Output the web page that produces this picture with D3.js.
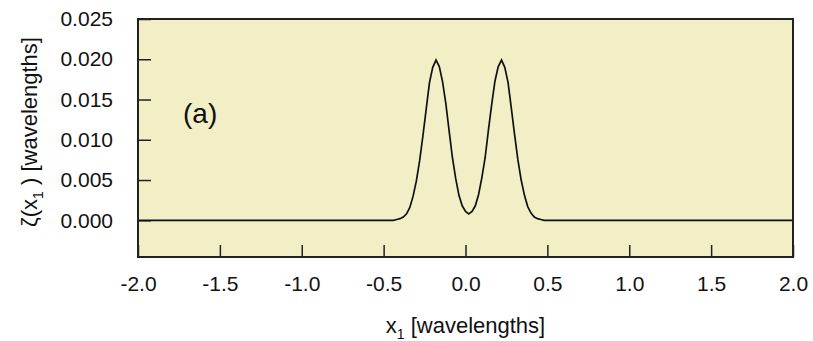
<!DOCTYPE html>
<html>
<head>
<meta charset="utf-8">
<script src="https://cdn.jsdelivr.net/npm/d3@7"></script>
<style>
  body { margin: 0; background: #fff; }
  svg text { font-family: "Liberation Sans", Arial, Helvetica, sans-serif; fill: #111; }
</style>
</head>
<body>
<div id="content"></div>
<script>
// surface profile (x1 in wavelengths, zeta in wavelengths)
var xs = [-2.0, -0.50, -0.48, -0.46, -0.44, -0.42, -0.40, -0.38, -0.36, -0.34, -0.32, -0.30, -0.28, -0.26,
          -0.24, -0.22, -0.20, -0.18, -0.16, -0.14, -0.12, -0.10, -0.08, -0.06, -0.04, -0.02, 0.00,
          0.02, 0.04, 0.06, 0.08, 0.10, 0.12, 0.14, 0.16, 0.18, 0.20, 0.22, 0.24, 0.26, 0.28, 0.30,
          0.32, 0.34, 0.36, 0.38, 0.40, 0.42, 0.44, 0.46, 0.48, 0.50, 0.52, 0.54, 2.0];
var zeta = [0, 0, 0, 0, 0, 0.0001, 0.0002, 0.0004, 0.0008, 0.0016, 0.0030, 0.0049, 0.0074, 0.0105,
            0.0138, 0.0171, 0.0190, 0.0199, 0.0191, 0.0172, 0.0145, 0.0111, 0.0078, 0.0052, 0.0031, 0.0018, 0.0011,
            0.0008, 0.0011, 0.0018, 0.0032, 0.0053, 0.0078, 0.0112, 0.0144, 0.0173, 0.0191, 0.0199, 0.0190, 0.0171, 0.0139, 0.0106,
            0.0075, 0.0050, 0.0031, 0.0017, 0.0009, 0.0004, 0.0002, 0.0001, 0, 0, 0, 0, 0];
var xTicks = [-2.0, -1.5, -1.0, -0.5, 0.0, 0.5, 1.0, 1.5, 2.0];
var yTicks = [0.000, 0.005, 0.010, 0.015, 0.020, 0.025];
var panelLabel = "(a)";

var data = xs.map(function(d, i) { return {x: d, y: zeta[i]}; });

// set the dimensions and margins of the graph
var margin = {top: 19, right: 20, bottom: 84, left: 138},
    width = 813 - margin.left - margin.right,
    height = 341 - margin.top - margin.bottom;

var svg = d3.select("#content")
  .append("svg")
    .attr("width", 813)
    .attr("height", 341)
  .append("g")
    .attr("transform", "translate(" + margin.left + "," + margin.top + ")");

var x = d3.scaleLinear().domain([-2, 2]).range([0, width]);
var y = d3.scaleLinear().domain([-0.00456, 0.025]).range([height, 0]);

// hyphen instead of unicode minus, like the original
var fmt1 = function(d) { return d3.format(".1f")(d).replace("\u2212", "-"); };

// plot background
svg.append("rect")
    .attr("x", 0).attr("y", 0)
    .attr("width", width).attr("height", height)
    .style("fill", "#f2eec6");

// y ticks (inside) + labels
var yAxis = svg.append("g")
    .call(d3.axisLeft(y).tickValues(yTicks).tickFormat(d3.format(".3f"))
      .tickSizeInner(-13).tickSizeOuter(0).tickPadding(25));
yAxis.select(".domain").remove();
yAxis.selectAll("line").attr("stroke", "#222").attr("stroke-width", 1.5);
yAxis.selectAll("text").style("font-size", "21px");

// x ticks (inside) + labels
var xAxis = svg.append("g")
    .attr("transform", "translate(0," + height + ")")
    .call(d3.axisBottom(x).tickValues(xTicks).tickFormat(fmt1)
      .tickSizeInner(-12).tickSizeOuter(0).tickPadding(19));
xAxis.select(".domain").remove();
xAxis.selectAll("line").attr("stroke", "#222").attr("stroke-width", 1.5);
xAxis.selectAll("text").style("font-size", "21px");

// the curve
var line = d3.line()
    .x(function(d) { return x(d.x); })
    .y(function(d) { return y(d.y); });
svg.append("path")
    .datum(data)
    .attr("d", line)
    .style("fill", "none")
    .style("stroke", "#111")
    .style("stroke-width", 1.7)
    .style("stroke-linejoin", "miter");

// frame
svg.append("rect")
    .attr("x", 0).attr("y", 0)
    .attr("width", width).attr("height", height)
    .style("fill", "none")
    .style("stroke", "#222")
    .style("stroke-width", 2);

// panel label
svg.append("text")
    .attr("x", x(-1.725))
    .attr("y", y(0.0121))
    .style("font-size", "28px")
    .text(panelLabel);

// axis titles
var xt = svg.append("text")
    .attr("x", width / 2)
    .attr("y", height + 76)
    .attr("text-anchor", "middle")
    .style("font-size", "22px");
xt.append("tspan").text("x");
xt.append("tspan").attr("dy", 6).style("font-size", "14px").text("1");
xt.append("tspan").attr("dy", -6).text(" [wavelengths]");

var yt = svg.append("text")
    .attr("transform", "translate(" + (-101) + "," + 113 + ") rotate(-90)")
    .attr("text-anchor", "middle")
    .style("font-size", "22px");
yt.append("tspan").text("\u03b6(x");
yt.append("tspan").attr("dy", 6).style("font-size", "14px").text("1");
yt.append("tspan").attr("dy", -6).text(" ) [wavelengths]");
</script>
</body>
</html>
